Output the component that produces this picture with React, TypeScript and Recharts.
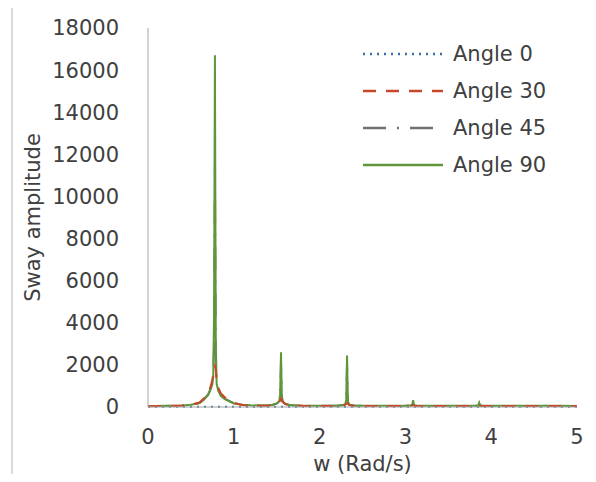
import { Label, Legend, Line, LineChart, XAxis, YAxis } from 'recharts'

// w (Rad/s) sample points, dense around the resonance peaks
const omega = [
  0, 0.1, 0.2, 0.3, 0.4,
  0.5, 0.6, 0.65, 0.7, 0.73,
  0.75, 0.76, 0.77, 0.78, 0.79,
  0.8, 0.82, 0.85, 0.9, 1.0,
  1.1, 1.2, 1.3, 1.4, 1.45,
  1.5, 1.53, 1.54, 1.55, 1.56,
  1.57, 1.6, 1.65, 1.7, 1.8,
  1.9, 2.0, 2.1, 2.2, 2.28,
  2.3, 2.31, 2.32, 2.33, 2.34,
  2.36, 2.4, 2.5, 2.6, 2.7,
  2.8, 2.9, 3.0, 3.07, 3.08,
  3.09, 3.1, 3.11, 3.2, 3.3,
  3.4, 3.5, 3.6, 3.7, 3.8,
  3.85, 3.86, 3.87, 3.9, 4.0,
  4.2, 4.4, 4.6, 4.62, 4.63,
  4.64, 4.7, 4.8, 5.0,
]

const angle0 = [
  8, 8, 9, 9, 10,
  10, 12, 12, 14, 15,
  16, 16, 18, 20, 18,
  16, 15, 14, 12, 10,
  10, 10, 10, 12, 12,
  14, 15, 16, 18, 16,
  15, 14, 12, 10, 10,
  10, 10, 10, 10, 12,
  14, 15, 16, 15, 14,
  12, 10, 10, 10, 10,
  10, 10, 10, 12, 12,
  14, 12, 12, 10, 10,
  10, 10, 10, 10, 10,
  10, 12, 12, 10, 10,
  10, 10, 10, 10, 12,
  10, 10, 10, 10,
]

const angle30 = [
  40, 42, 45, 55, 70,
  110, 210, 400, 680, 980,
  1280, 1600, 1850, 1950, 1750,
  1300, 900, 640, 440, 200,
  100, 70, 65, 75, 95,
  150, 230, 320, 400, 320,
  230, 140, 95, 75, 58,
  52, 50, 50, 55, 80,
  110, 150, 200, 150, 110,
  80, 60, 50, 45, 45,
  45, 45, 50, 60, 70,
  80, 70, 60, 50, 45,
  45, 45, 45, 45, 50,
  55, 60, 55, 50, 45,
  45, 45, 45, 50, 55,
  50, 45, 45, 45,
]

const angle45 = [
  45, 45, 50, 58, 70,
  105, 190, 360, 600, 880,
  1150, 1450, 3000, 11500, 2500,
  1150, 800, 560, 390, 180,
  100, 72, 68, 76, 98,
  160, 260, 500, 2100, 450,
  250, 140, 95, 75, 60,
  55, 55, 55, 60, 90,
  130, 300, 2000, 250, 120,
  90, 65, 55, 50, 50,
  50, 50, 55, 70, 100,
  250, 90, 65, 55, 50,
  50, 50, 50, 50, 55,
  65, 150, 70, 55, 50,
  50, 50, 50, 55, 60,
  55, 50, 50, 50,
]

const angle90 = [
  50, 50, 55, 62, 75,
  110, 190, 340, 560, 820,
  1080, 1400, 4500, 16700, 3200,
  1100, 760, 520, 360, 170,
  105, 80, 75, 82, 110,
  170, 280, 600, 2600, 500,
  260, 150, 100, 80, 65,
  60, 60, 60, 65, 95,
  140, 350, 2450, 300, 130,
  95, 70, 60, 55, 55,
  55, 55, 60, 80, 120,
  320, 110, 70, 60, 55,
  55, 55, 55, 55, 60,
  70, 200, 80, 60, 55,
  55, 55, 55, 60, 70,
  60, 55, 55, 50,
]

const xTicks = [0, 1, 2, 3, 4, 5]
const yTicks = [0, 2000, 4000, 6000, 8000, 10000, 12000, 14000, 16000, 18000]

const chartData = omega.map((w, i) => ({
  w,
  a0: angle0[i],
  a30: angle30[i],
  a45: angle45[i],
  a90: angle90[i],
}))

const FONT = 'DejaVu Sans'
const TEXT = '#404040'

const series = [
  { key: 'a0', name: 'Angle 0', color: '#3a6ea5', dash: '2 5' },
  { key: 'a30', name: 'Angle 30', color: '#c8472b', dash: '13 10' },
  { key: 'a45', name: 'Angle 45', color: '#707070', dash: '23 11 2 11' },
  { key: 'a90', name: 'Angle 90', color: '#5f963a', dash: undefined },
]

// drawing order: gray under green, orange dashes on top near the baseline
const drawOrder = ['a0', 'a45', 'a90', 'a30']

const LegendBox = () => (
  <div style={{ fontFamily: FONT, fontSize: 21, color: TEXT }}>
    {series.map((s) => (
      <div
        key={s.key}
        style={{ display: 'flex', alignItems: 'center', height: 37 }}
      >
        <svg width={80} height={6} style={{ marginRight: 10 }}>
          <line
            x1={0}
            y1={3}
            x2={80}
            y2={3}
            stroke={s.color}
            strokeWidth={2.5}
            strokeDasharray={s.dash}
          />
        </svg>
        <span>{s.name}</span>
      </div>
    ))}
  </div>
)

const YTitle = (props: any) => {
  const { viewBox } = props
  const cx = viewBox.x + 13
  const cy = viewBox.y + viewBox.height / 2
  return (
    <text
      x={cx}
      y={cy}
      transform={`rotate(-90 ${cx} ${cy})`}
      textAnchor="middle"
      dominantBaseline="central"
      fill={TEXT}
      fontFamily={FONT}
      fontSize={21}
    >
      Sway amplitude
    </text>
  )
}

export default function App() {
  return (
    <div
      style={{
        position: 'relative',
        width: 596,
        height: 482,
        margin: -8,
        overflow: 'hidden',
        background: '#fff',
      }}
    >
      <div
        style={{
          position: 'absolute',
          left: 11,
          top: 6,
          width: 600,
          height: 470,
          border: '2px solid #dadada',
        }}
      />
      <div style={{ position: 'absolute', left: 0, top: 0 }}>
        <LineChart
          width={596}
          height={482}
          data={chartData}
          margin={{ top: 28, right: 19, bottom: 5, left: 20 }}
        >
          <XAxis
            type="number"
            dataKey="w"
            domain={[0, 5]}
            ticks={xTicks}
            height={70}
            axisLine={{ stroke: '#a6a6a6' }}
            tickLine={false}
            tickSize={0}
            tickMargin={22}
            tick={{ fill: TEXT, fontSize: 21, fontFamily: FONT }}
          >
            <Label
              value="w (Rad/s)"
              position="insideBottom"
              offset={6}
              fill={TEXT}
              fontSize={21}
              fontFamily={FONT}
            />
          </XAxis>
          <YAxis
            type="number"
            domain={[0, 18000]}
            ticks={yTicks}
            width={128}
            axisLine={{ stroke: '#a6a6a6' }}
            tickLine={false}
            tickSize={0}
            tickMargin={29}
            tick={{ fill: TEXT, fontSize: 21, fontFamily: FONT }}
            label={<YTitle />}
          />
          <Legend
            layout="horizontal"
            verticalAlign="middle"
            align="center"
            content={<LegendBox />}
            wrapperStyle={{ top: 35, left: 363, width: 230, height: 150 }}
          />
          {drawOrder.map((k) => {
            const s = series.find((x) => x.key === k)!
            return (
              <Line
                key={s.key}
                type="linear"
                dataKey={s.key}
                name={s.name}
                stroke={s.color}
                strokeWidth={2}
                strokeDasharray={s.dash}
                dot={false}
                activeDot={false}
                isAnimationActive={false}
              />
            )
          })}
        </LineChart>
      </div>
    </div>
  )
}
